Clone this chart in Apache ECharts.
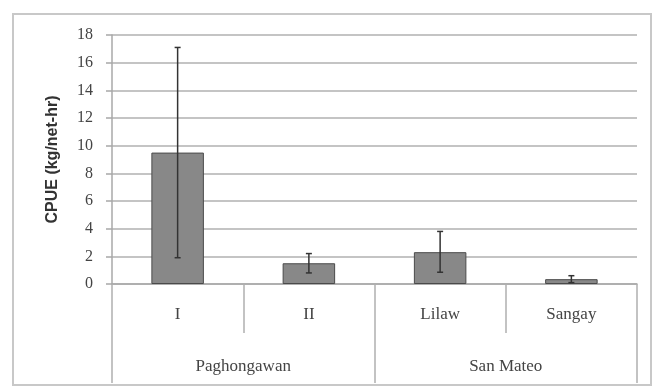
<!DOCTYPE html>
<html>
<head>
<meta charset="utf-8">
<script src="https://cdn.jsdelivr.net/npm/echarts@6/dist/echarts.min.js"></script>
<style>html,body{margin:0;padding:0;background:#fff}#c{width:655px;height:391px}</style>
</head>
<body>
<div id="c"></div>
<script>
var categories = ['I', 'II', 'Lilaw', 'Sangay'];
var groups = ['Paghongawan', 'San Mateo'];
var cpueMean = [9.5, 1.5, 2.3, 0.35];
var errLow = [1.9, 0.8, 0.85, 0.1];
var errHigh = [17.1, 2.2, 3.8, 0.6];
var yTicks = [0, 2, 4, 6, 8, 10, 12, 14, 16, 18];

var chart = echarts.init(document.getElementById('c'));
var serif = '"Liberation Serif", "DejaVu Serif", serif';
var errData = categories.map(function (c, i) { return [i, errLow[i], errHigh[i]]; });

chart.setOption({
  animation: false,
  backgroundColor: '#fff',
  graphic: [{
    type: 'rect', shape: { x: 13, y: 14, width: 638, height: 371 },
    style: { fill: 'none', stroke: '#c8c8c8', lineWidth: 2 }, silent: true
  }],
  grid: { left: 112, right: 18, top: 35, bottom: 107 },
  xAxis: [{
    type: 'category', data: categories, position: 'bottom',
    axisLine: { lineStyle: { color: '#a8a8a8', width: 1.5 } },
    axisTick: { show: true, length: 49, interval: 0, lineStyle: { color: '#b0b0b0', width: 1.5 } },
    axisLabel: { margin: 22, color: '#444', fontFamily: serif, fontSize: 17 }
  }, {
    type: 'category', data: groups, position: 'bottom',
    axisLine: { show: false },
    axisTick: { show: true, length: 99, interval: 0, lineStyle: { color: '#b0b0b0', width: 1.5 } },
    axisLabel: { margin: 74, color: '#444', fontFamily: serif, fontSize: 17 }
  }],
  yAxis: {
    type: 'value', min: yTicks[0], max: yTicks[yTicks.length - 1], interval: 2,
    name: 'CPUE (kg/net-hr)', nameLocation: 'middle', nameGap: 51, nameRotate: 90,
    nameTextStyle: { fontFamily: '"Liberation Sans", Arial, sans-serif', fontWeight: 'bold', fontSize: 16, color: '#333' },
    axisLine: { show: true, lineStyle: { color: '#a8a8a8', width: 1.5 } },
    axisTick: { show: true, length: 6, lineStyle: { color: '#a8a8a8', width: 1.5 } },
    axisLabel: { color: '#444', fontFamily: serif, fontSize: 16, margin: 19 },
    splitLine: { lineStyle: { color: '#c4c4c4', width: 2 } }
  },
  series: [{
    type: 'bar', xAxisIndex: 0, data: cpueMean, barWidth: '40%',
    itemStyle: { color: '#888888', borderColor: '#4a4a4a', borderWidth: 1 }
  }, {
    type: 'custom', xAxisIndex: 0, data: errData, z: 10,
    renderItem: function (params, api) {
      var x = api.value(0);
      var lo = api.coord([x, api.value(1)]);
      var hi = api.coord([x, api.value(2)]);
      var w = 3;
      var st = { stroke: '#333', lineWidth: 1.5 };
      return { type: 'group', children: [
        { type: 'line', shape: { x1: hi[0], y1: hi[1], x2: lo[0], y2: lo[1] }, style: st },
        { type: 'line', shape: { x1: hi[0] - w, y1: hi[1], x2: hi[0] + w, y2: hi[1] }, style: st },
        { type: 'line', shape: { x1: lo[0] - w, y1: lo[1], x2: lo[0] + w, y2: lo[1] }, style: st }
      ]};
    }
  }]
});
</script>
</body>
</html>
